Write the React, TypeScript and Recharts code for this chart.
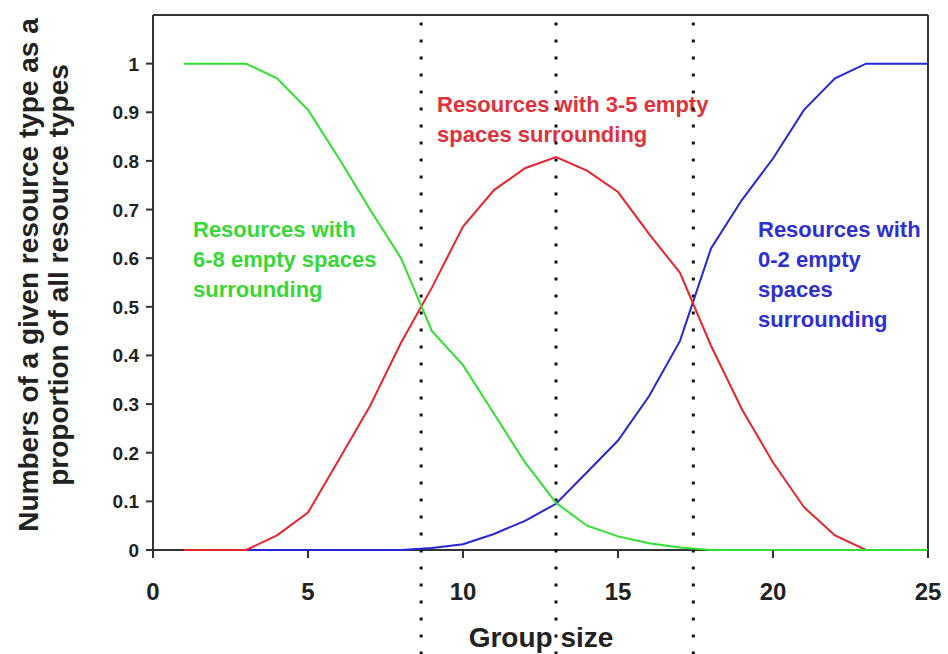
import { CartesianGrid, Line, LineChart, ReferenceLine, XAxis, YAxis } from "recharts";

// group sizes 1..25
const groupSizes = [1, 2, 3, 4, 5, 6, 7, 8, 9, 10, 11, 12, 13, 14, 15, 16, 17, 18, 19, 20, 21, 22, 23, 24, 25];

// 6-8 empty spaces surrounding
const greenShare = [1, 1, 1, 0.97, 0.905, 0.805, 0.7, 0.6, 0.45, 0.38, 0.28, 0.18, 0.097, 0.05, 0.028, 0.014, 0.005, 0, 0, 0, 0, 0, 0, 0, 0];
// 3-5 empty spaces surrounding
const redShare = [0, 0, 0, 0.03, 0.077, 0.186, 0.296, 0.426, 0.54, 0.665, 0.74, 0.785, 0.808, 0.78, 0.736, 0.65, 0.57, 0.42, 0.289, 0.18, 0.088, 0.03, 0, 0, 0];
// 0-2 empty spaces surrounding
const blueShare = [0, 0, 0, 0, 0, 0, 0, 0, 0.004, 0.012, 0.033, 0.06, 0.095, 0.16, 0.225, 0.316, 0.43, 0.62, 0.72, 0.805, 0.905, 0.97, 1, 1, 1];

const xTicks = [0, 5, 10, 15, 20, 25];
const yTicks = [0, 0.1, 0.2, 0.3, 0.4, 0.5, 0.6, 0.7, 0.8, 0.9, 1];
const thresholds = [8.65, 13, 17.43];

const greenNote = ["Resources with", "6-8 empty spaces", "surrounding"];
const redNote = ["Resources with 3-5 empty", "spaces surrounding"];
const blueNote = ["Resources with", "0-2 empty", "spaces", "surrounding"];
const yTitle = ["Numbers of a given resource type as a", "proportion of all resource types"];

const data = groupSizes.map((size, i) => ({
  size,
  green: greenShare[i],
  red: redShare[i],
  blue: blueShare[i],
}));

const FONT = '"Liberation Sans", Arial, sans-serif';
const AXIS = "#333333";

function XTick({ x, y, payload }: any) {
  return (
    <text x={x} y={y + 42} textAnchor="middle" fontFamily={FONT} fontWeight="bold" fontSize={24} fill="#222">
      {payload.value}
    </text>
  );
}

function YTick({ x, y, payload }: any) {
  return (
    <text x={x - 7} y={y + 7} textAnchor="end" fontFamily={FONT} fontWeight="bold" fontSize={19} fill="#222">
      {payload.value}
    </text>
  );
}

function Note({ lines, x, y, color }: { lines: string[]; x: number; y: number; color: string }) {
  return (
    <text x={x} y={y} fontFamily={FONT} fontWeight="bold" fontSize={22} fill={color}>
      {lines.map((line, i) => (
        <tspan key={line} x={x} dy={i === 0 ? 0 : 30}>
          {line}
        </tspan>
      ))}
    </text>
  );
}

export default function App() {
  return (
    <div style={{ position: "absolute", left: 0, top: 0, background: "#fff" }}>
      <LineChart width={948} height={654} data={data} margin={{ top: 15, right: 20, bottom: 0, left: 0 }}>
        {/* frame drawn as grid so the series sit on top of the zero line */}
        <CartesianGrid
          horizontalValues={[0, 1.1]}
          verticalValues={[0, 25]}
          stroke={AXIS}
          strokeWidth={2}
        />
        <XAxis
          dataKey="size"
          type="number"
          domain={[0, 25]}
          ticks={xTicks}
          height={104}
          tickSize={8}
          tickMargin={0}
          axisLine={false}
          tickLine={{ stroke: AXIS, strokeWidth: 2 }}
          tick={<XTick />}
        />
        <YAxis
          type="number"
          domain={[0, 1.1]}
          ticks={yTicks}
          width={153}
          tickSize={7}
          tickMargin={0}
          axisLine={false}
          tickLine={{ stroke: AXIS, strokeWidth: 2 }}
          tick={<YTick />}
        />
        {thresholds.map((t) => (
          <ReferenceLine
            key={t}
            segment={[
              { x: t, y: -0.215 },
              { x: t, y: 1.1 },
            ]}
            ifOverflow="visible"
            stroke="#111"
            strokeWidth={3}
            strokeDasharray="3 14"
          />
        ))}
        <Line dataKey="blue" stroke="#2626d6" strokeWidth={2} dot={false} isAnimationActive={false} />
        <Line dataKey="red" stroke="#e8242c" strokeWidth={2} dot={false} isAnimationActive={false} />
        <Line dataKey="green" stroke="#2fe02f" strokeWidth={2} dot={false} isAnimationActive={false} />
        <Note lines={greenNote} x={193} y={237} color="#36d836" />
        <Note lines={redNote} x={437} y={112} color="#e2303a" />
        <Note lines={blueNote} x={758} y={237} color="#2e2ed2" />
        <text x={541} y={647} textAnchor="middle" fontFamily={FONT} fontWeight="bold" fontSize={28} fill="#222">
          Group size
        </text>
        <text transform="rotate(-90)" textAnchor="middle" fontFamily={FONT} fontWeight="bold" fontSize={28} fill="#222">
          {yTitle.map((line, i) => (
            <tspan key={line} x={-275} y={38 + i * 30}>
              {line}
            </tspan>
          ))}
        </text>
      </LineChart>
    </div>
  );
}
